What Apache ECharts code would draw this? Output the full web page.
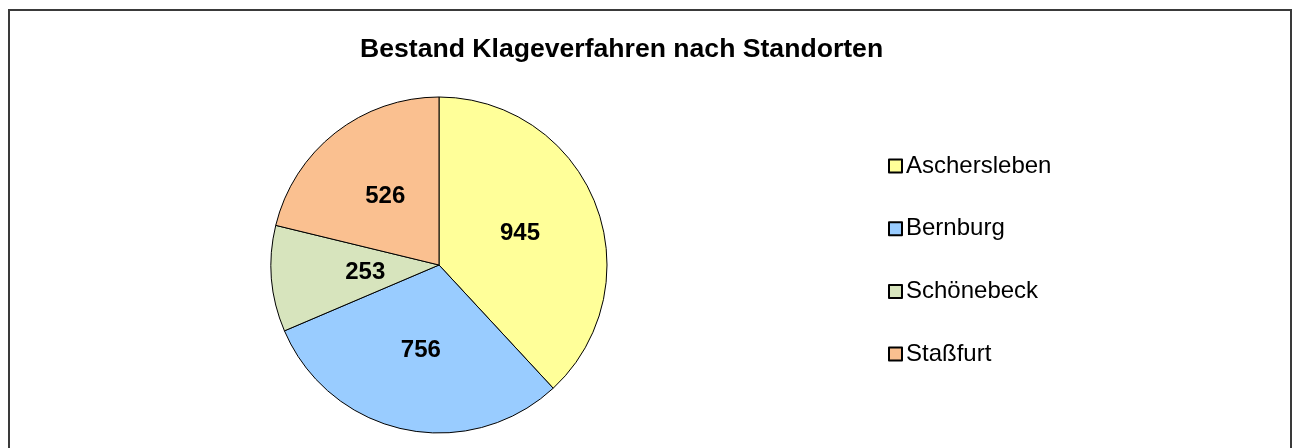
<!DOCTYPE html>
<html>
<head>
<meta charset="utf-8">
<script src="https://cdn.jsdelivr.net/npm/echarts@6/dist/echarts.min.js"></script>
<style>
  html, body { margin: 0; padding: 0; background: #fff; }
  #chart { width: 1295px; height: 448px; }
</style>
</head>
<body>
<div id="chart"></div>
<script>
// Pending court cases per location
const standorte = ['Aschersleben', 'Bernburg', 'Schönebeck', 'Staßfurt'];
const bestand = [945, 756, 253, 526];
const farben = ['#FFFF99', '#99CCFF', '#D7E4BD', '#FAC090'];

const chart = echarts.init(document.getElementById('chart'), null, { renderer: 'canvas' });

const data = standorte.map((name, i) => {
  const item = { name: name, value: bestand[i], itemStyle: { color: farben[i] } };
  // the narrow slice keeps its number a little closer to the centre
  if (name === 'Schönebeck') item.label = { offset: [13, 0] };
  return item;
});

chart.setOption({
  animation: false,
  backgroundColor: '#ffffff',
  title: {
    text: 'Bestand Klageverfahren nach Standorten',
    left: 360,
    top: 36,
    padding: 0,
    textStyle: {
      fontFamily: 'Liberation Sans, Arial, sans-serif',
      fontWeight: 'bold',
      fontSize: 26.6,
      color: '#000'
    }
  },
  legend: {
    orient: 'vertical',
    left: 888,
    top: 153,
    padding: 0,
    itemWidth: 13,
    itemHeight: 13,
    itemGap: 36.7,
    icon: 'rect',
    textStyle: {
      fontFamily: 'Liberation Sans, Arial, sans-serif',
      fontSize: 24,
      lineHeight: 26,
      color: '#000',
      padding: [0, 0, 0, -1]
    },
    data: standorte
  },
  graphic: [{
    type: 'rect',
    shape: { x: 9, y: 10, width: 1282, height: 460 },
    style: { fill: 'none', stroke: '#3a3a3a', lineWidth: 2 },
    silent: true
  }],
  series: [{
    type: 'pie',
    center: [439, 265],
    radius: 168,
    startAngle: 90,
    clockwise: true,
    avoidLabelOverlap: false,
    itemStyle: { borderColor: '#000', borderWidth: 1 },
    label: {
      show: true,
      position: 'inside',
      formatter: '{c}',
      fontFamily: 'Liberation Sans, Arial, sans-serif',
      fontWeight: 'bold',
      fontSize: 24,
      color: '#000'
    },
    labelLine: { show: false },
    emphasis: { disabled: true },
    data: data
  }]
});
</script>
</body>
</html>
